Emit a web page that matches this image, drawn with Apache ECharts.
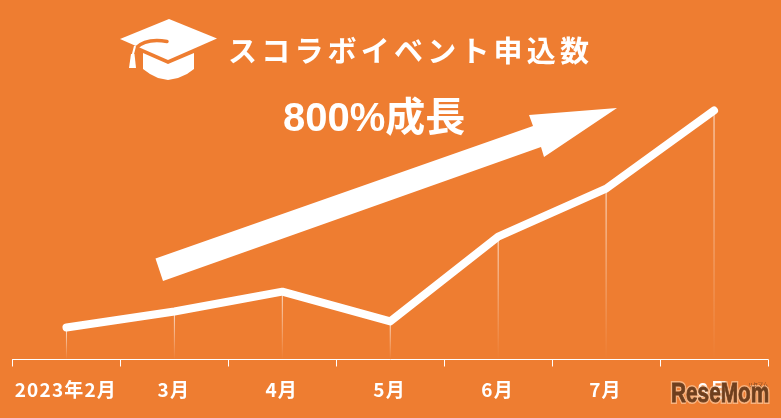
<!DOCTYPE html>
<html><head><meta charset="utf-8">
<style>html,body{margin:0;padding:0;background:#EE7D31}#c{width:781px;height:418px}</style>
<script src="https://cdn.jsdelivr.net/npm/echarts@6/dist/echarts.min.js"></script>
</head><body><div id="c"></div>
<script>
const categories = ['2023年2月','3月','4月','5月','6月','7月','8月'];
const applications = [100,150,212,119,384,534,778];
const titleChars = ['ス','コ','ラ','ボ','イ','ベ','ン','ト','申','込','数'];
const growthText = '800%成長';
const watermark = 'ReseMom';
const ORANGE = '#EE7D31';
const BROWN = '#6E3F1E';
const chart = echarts.init(document.getElementById('c'));
chart.setOption({
  animation:false,
  backgroundColor:ORANGE,
  grid:{left:12.5,right:13,top:39.5,bottom:58.5},
  xAxis:{type:'category',data:categories,boundaryGap:true,
    axisLine:{lineStyle:{color:'#fff',width:1}},
    axisTick:{show:true,length:7,alignWithLabel:false,lineStyle:{color:'#fff',width:1}},
    axisLabel:{color:'#fff',fontFamily:'"Noto Sans CJK JP"',fontWeight:'bold',fontSize:19,margin:21,interval:0,
      formatter:v=>[...v].join('\u200a')+'\u200a\u200a'}},
  yAxis:{type:'value',min:0,max:1000,show:false,splitLine:{show:false}},
  series:[
    {type:'bar',data:applications,barWidth:1,silent:true,z:1,
     itemStyle:{color:new echarts.graphic.LinearGradient(0,0,0,1,[
       {offset:0,color:'rgba(255,255,255,0.8)'},{offset:1,color:'rgba(255,255,255,0)'}])}},
    {type:'line',data:applications,showSymbol:false,z:3,
     lineStyle:{color:'#fff',width:8,join:'round',cap:'round'}}
  ],
  graphic:[
    {type:'polygon',z:2,shape:{points:[[155.5,258.5],[163,281],[541,147],[544,157],[617,108],[529,115],[533,126]]},style:{fill:'#fff'}},
    {type:'polygon',z:5,shape:{points:[[169,19],[217,38.5],[168,60],[120,39]]},style:{fill:'#fff'}},
    {type:'polygon',z:5,shape:{points:[[143,53],[168,64],[194,53],[194,69],[187,74],[178,78],[168,80],[158,78],[150,74],[143,69]]},style:{fill:'#fff'}},
    {type:'bezierCurve',z:6,shape:{x1:167,y1:41.5,cpx1:152,cpy1:39,cpx2:143,cpy2:41,x2:136,y2:48},style:{fill:'none',stroke:ORANGE,lineWidth:3.5,lineCap:'round'}},
    {type:'line',z:6,shape:{x1:135,y1:46,x2:132.5,y2:56},style:{stroke:'#fff',lineWidth:2}},
    {type:'polygon',z:6,shape:{points:[[131,54],[134.5,54],[136,68],[129,68]]},style:{fill:'#fff'}},
    ...titleChars.map((c,i)=>({type:'text',z:5,left:228+i*33.2,top:36,style:{text:c,fill:'#fff',font:'bold 29px "Noto Sans CJK JP"'}})),
    {type:'text',z:5,left:283,top:100,style:{text:growthText,fill:'#fff',font:'bold 40px "Liberation Sans","Noto Sans CJK JP"'}},
    {type:'text',z:8,x:671,y:408,scaleX:0.77,style:{text:watermark,fill:'none',font:'bold 27px "Liberation Sans"',textVerticalAlign:'bottom',
      stroke:'rgba(255,215,180,0.6)',lineWidth:4}},
    {type:'text',z:9,x:671,y:408,scaleX:0.77,style:{text:watermark,fill:BROWN,font:'bold 27px "Liberation Sans"',textVerticalAlign:'bottom',
      stroke:BROWN,lineWidth:0.8}},
    {type:'text',z:9,left:748,top:382,style:{text:'リセマム',fill:BROWN,font:'5px "Noto Sans CJK JP"'}}
  ]
});
</script></body></html>
